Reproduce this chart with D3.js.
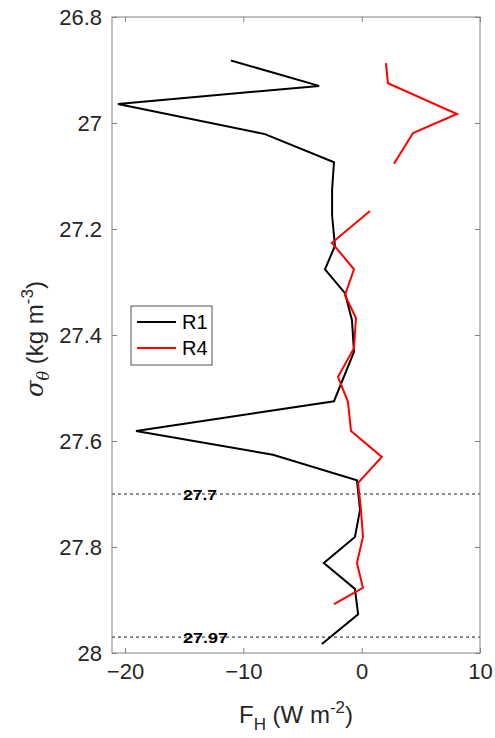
<!DOCTYPE html>
<html><head><meta charset="utf-8">
<script src="https://cdn.jsdelivr.net/npm/d3@7"></script>
<style>body{margin:0;background:#fff}svg{display:block}text{font-family:"Liberation Sans",Arial,sans-serif}</style>
</head><body><svg id="c" width="495" height="738"></svg>
<script>
// data: sigma-theta levels and heat flux F_H (W m^-2)
const r1Sigma = [26.882,26.930,26.964,27.021,27.074,27.126,27.174,27.232,27.276,27.321,27.372,27.432,27.525,27.581,27.626,27.674,27.730,27.781,27.830,27.879,27.927,27.983];
const r1Flux  = [-11.05,-3.6,-20.6,-8.17,-2.34,-2.5,-2.5,-2.26,-3.1,-1.41,-0.82,-0.65,-2.34,-19.07,-7.5,-0.4,-0.14,-0.57,-3.2,-0.57,-0.3,-3.36];
const r4Sigma = [26.887,26.925,26.983,27.019,27.077,null,27.166,27.226,27.276,27.325,27.368,27.425,27.479,27.526,27.581,27.630,27.679,27.730,27.781,27.830,27.877,27.908];
const r4Flux  = [2.05,2.22,8.05,4.34,2.73,null,0.7,-2.51,-0.65,-1.41,-0.48,-0.65,-2.0,-1.16,-0.9,1.7,-0.3,-0.06,0.11,-0.4,0.11,-2.34];
const xTicks = [-20,-10,0,10];
const yTicks = [26.8,27,27.2,27.4,27.6,27.8,28];
const refLines = [27.7,27.97];
const refLabels = ["27.7","27.97"];
const seriesNames = ["R1","R4"];
const seriesColors = ["#000000","#ff0000"];

const svg = d3.select("#c");
const L=112,R=480,T=17,B=653;
const x = d3.scaleLinear().domain([-21.1,10]).range([L,R]);
const y = d3.scaleLinear().domain([26.8,28]).range([T,B]);
const axisCol="#262626", boxCol="#808080";

// ref dashed lines
refLines.forEach((v,i)=>{
  svg.append("line").attr("x1",L).attr("x2",R).attr("y1",y(v)).attr("y2",y(v))
    .attr("stroke","#000").attr("stroke-width",0.9).attr("stroke-dasharray","3,3");
  svg.append("text").attr("x",183).attr("y",y(v)+5.5).attr("font-size",15).attr("font-weight","bold")
    .attr("textLength",refLabels[i].length===4?34:45).attr("lengthAdjust","spacingAndGlyphs")
    .attr("fill","#000").text(refLabels[i]);
});

// data lines
const mk = (s,f)=>s.map((v,i)=>({s:v,f:f[i]}));
const line = d3.line().defined(d=>d.s!=null).x(d=>x(d.f)).y(d=>y(d.s));
[[r1Sigma,r1Flux],[r4Sigma,r4Flux]].forEach((p,i)=>{
  svg.append("path").datum(mk(p[0],p[1])).attr("d",line).attr("fill","none")
    .attr("stroke",seriesColors[i]).attr("stroke-width",2).attr("stroke-linejoin","miter");
});

// box
svg.append("rect").attr("x",L).attr("y",T).attr("width",R-L).attr("height",B-T)
  .attr("fill","none").attr("stroke",boxCol).attr("stroke-width",1);

// axes
const gx = svg.append("g").attr("transform",`translate(0,${B})`)
  .call(d3.axisBottom(x).tickValues(xTicks).tickSize(-5).tickPadding(10).tickFormat(d3.format("d")));
const gxt = svg.append("g").attr("transform",`translate(0,${T})`)
  .call(d3.axisTop(x).tickValues(xTicks).tickSize(-5).tickFormat(""));
const gy = svg.append("g").attr("transform",`translate(${L},0)`)
  .call(d3.axisLeft(y).tickValues(yTicks).tickSize(-5).tickPadding(10).tickFormat(d=>String(+d.toFixed(1))));
const gyr = svg.append("g").attr("transform",`translate(${R},0)`)
  .call(d3.axisRight(y).tickValues(yTicks).tickSize(-5).tickFormat(""));
[gx,gxt,gy,gyr].forEach(g=>{
  g.select(".domain").remove();
  g.selectAll(".tick line").attr("stroke",boxCol);
  g.selectAll("text").attr("font-size",22).attr("fill",axisCol).attr("font-family","Liberation Sans, Arial, sans-serif");
});

// x label
const xl = svg.append("text").attr("x",296).attr("y",723).attr("text-anchor","middle")
  .attr("font-size",24).attr("fill",axisCol);
xl.append("tspan").text("F");
xl.append("tspan").attr("font-size",17).attr("dy",7).text("H");
xl.append("tspan").attr("dy",-7).text(" (W m");
xl.append("tspan").attr("font-size",17).attr("dy",-10).text("-2");
xl.append("tspan").attr("dy",10).text(")");

// y label
const yl = svg.append("text").attr("transform","translate(43,339) rotate(-90)").attr("text-anchor","middle")
  .attr("font-size",24).attr("fill",axisCol);
yl.append("tspan").attr("font-family","DejaVu Serif, serif").attr("font-style","italic").text("σ");
yl.append("tspan").attr("font-family","DejaVu Serif, serif").attr("font-style","italic").attr("font-size",16).attr("dy",6).text("θ");
yl.append("tspan").attr("dy",-6).text(" (kg m");
yl.append("tspan").attr("font-size",17).attr("dy",-10).text("-3");
yl.append("tspan").attr("dy",10).text(")");

// legend
const lg = svg.append("g");
lg.append("rect").attr("x",131).attr("y",306).attr("width",81).attr("height",59)
  .attr("fill","#fff").attr("stroke",axisCol).attr("stroke-width",0.8);
seriesNames.forEach((n,i)=>{
  const yy = 322+i*26;
  lg.append("line").attr("x1",137).attr("x2",176).attr("y1",yy).attr("y2",yy)
    .attr("stroke",seriesColors[i]).attr("stroke-width",2);
  lg.append("text").attr("x",182).attr("y",yy+7).attr("font-size",20).attr("fill","#000").text(n);
});
</script></body></html>
